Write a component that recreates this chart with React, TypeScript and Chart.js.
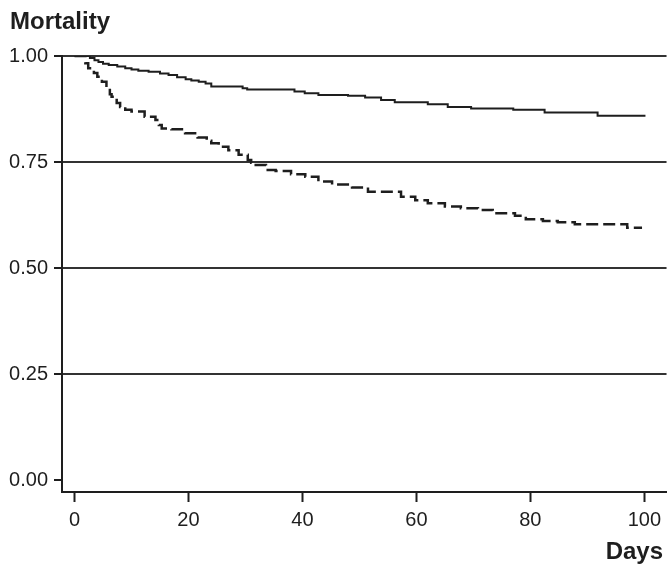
import React, { useEffect, useRef } from "react";
import { Chart, registerables } from "chart.js";

Chart.register(...registerables);

const solidDays = [0, 2.7, 3.5, 4.2, 5, 6, 7.5, 8.9, 10, 11.2, 13, 15, 16.5, 18, 19.5, 20.5, 21.8, 23, 24, 29.5, 30.3, 38.6, 40.4, 42.8, 48, 51, 53.8, 56.2, 62, 65.5, 69.6, 77, 82.5, 91.8, 100.2];
const solidSurv = [1.0, 0.995, 0.99, 0.986, 0.982, 0.979, 0.975, 0.971, 0.968, 0.965, 0.963, 0.959, 0.955, 0.95, 0.945, 0.942, 0.939, 0.935, 0.928, 0.924, 0.921, 0.916, 0.912, 0.908, 0.906, 0.902, 0.896, 0.891, 0.886, 0.88, 0.876, 0.873, 0.867, 0.859, 0.859];

const dashedDays = [0, 1.9, 2.4, 3.4, 4, 4.8, 5.6, 6.2, 6.5, 6.9, 7.4, 8, 8.9, 10, 12.3, 14.2, 14.8, 15.3, 17, 19.4, 21.6, 23.2, 24, 25.3, 27, 28.8, 30.4, 31, 31.8, 33.6, 35.3, 38, 40.5, 42.8, 45.2, 48.7, 51.5, 57.3, 59.8, 62, 65, 67.8, 70.8, 73.4, 77.3, 79.2, 82.2, 84.8, 87.8, 97, 99.6];
const dashedSurv = [1.0, 0.983, 0.971, 0.96, 0.951, 0.939, 0.92, 0.91, 0.904, 0.896, 0.889, 0.88, 0.873, 0.869, 0.857, 0.849, 0.837, 0.829, 0.827, 0.818, 0.808, 0.8, 0.794, 0.786, 0.778, 0.767, 0.755, 0.748, 0.743, 0.731, 0.729, 0.721, 0.715, 0.704, 0.697, 0.69, 0.68, 0.668, 0.66, 0.653, 0.645, 0.641, 0.637, 0.629, 0.623, 0.615, 0.611, 0.608, 0.603, 0.595, 0.595];

const xTicks = [0, 20, 40, 60, 80, 100];
const yTicks = [0, 0.25, 0.5, 0.75, 1.0];
const yAxisTitle = "Mortality";
const xAxisTitle = "Days";

const INK = "#1e1e1e";
const TICK_FONT = { family: "'Liberation Sans', Arial, sans-serif", size: 20 };

export default function App() {
  const ref = useRef<HTMLCanvasElement>(null);

  useEffect(() => {
    const titles = {
      id: "titles",
      afterDraw(chart: any) {
        const ctx = chart.ctx;
        ctx.save();
        ctx.fillStyle = INK;
        ctx.font = "bold 24px 'Liberation Sans', Arial, sans-serif";
        ctx.textBaseline = "alphabetic";
        ctx.textAlign = "left";
        ctx.fillText(yAxisTitle, 10, 29);
        ctx.textAlign = "right";
        ctx.fillText(xAxisTitle, 663, 559);
        ctx.restore();
      },
    };

    const chart = new Chart(ref.current as HTMLCanvasElement, {
      type: "line",
      data: {
        datasets: [
          {
            data: solidDays.map((d, i) => ({ x: d, y: solidSurv[i] })),
            borderColor: INK,
            borderWidth: 2,
            pointRadius: 0,
            stepped: true,
            fill: false,
          },
          {
            data: dashedDays.map((d, i) => ({ x: d, y: dashedSurv[i] })),
            borderColor: INK,
            borderWidth: 2.5,
            borderDash: [12, 5],
            pointRadius: 0,
            stepped: true,
            fill: false,
          },
        ],
      },
      options: {
        animation: false,
        responsive: false,
        maintainAspectRatio: false,
        layout: { padding: { top: 56, left: 0, right: 0, bottom: 0 } },
        plugins: { legend: { display: false }, tooltip: { enabled: false }, title: { display: false } },
        scales: {
          x: {
            type: "linear",
            min: -2.2,
            max: 103.9,
            afterBuildTicks: (s: any) => {
              s.ticks = xTicks.map((v) => ({ value: v }));
            },
            afterFit: (s: any) => {
              s.height = 72;
            },
            grid: {
              drawOnChartArea: false,
              drawTicks: true,
              tickLength: 10,
              tickColor: INK,
              tickWidth: 2,
            },
            border: { color: INK, width: 2 },
            ticks: { font: TICK_FONT, color: INK, padding: 6, maxRotation: 0, autoSkip: false },
          },
          y: {
            type: "linear",
            min: -0.0283,
            max: 1.0,
            afterBuildTicks: (s: any) => {
              s.ticks = yTicks.map((v) => ({ value: v }));
            },
            afterFit: (s: any) => {
              s.width = 62;
            },
            grid: {
              drawOnChartArea: true,
              drawTicks: true,
              tickLength: 8,
              color: (c: any) => (c.tick && c.tick.value === 0 ? "rgba(0,0,0,0)" : "#333"),
              lineWidth: 2,
              tickColor: INK,
              tickWidth: 2,
            },
            border: { color: INK, width: 2 },
            ticks: {
              font: TICK_FONT,
              color: INK,
              padding: 6,
              autoSkip: false,
              callback: (v: any) => Number(v).toFixed(2),
            },
          },
        },
      },
      plugins: [titles],
    });

    return () => chart.destroy();
  }, []);

  return (
    <div style={{ position: "fixed", left: 0, top: 0, width: 667, height: 564, background: "#fff" }}>
      <canvas ref={ref} width={667} height={564} style={{ display: "block" }} />
    </div>
  );
}
